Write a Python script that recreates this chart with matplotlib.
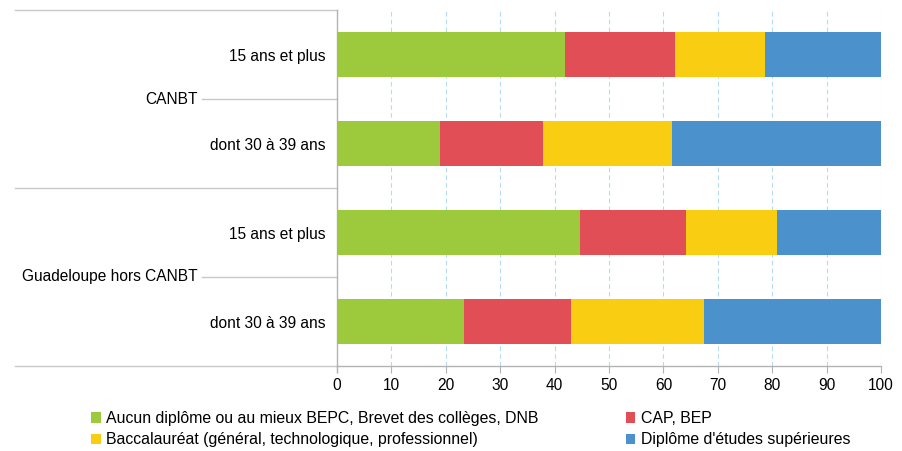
import matplotlib
matplotlib.use("Agg")
import matplotlib.pyplot as plt
from matplotlib.transforms import blended_transform_factory
import numpy as np

plt.rcParams['font.family'] = ['Liberation Sans', 'DejaVu Sans']

groups = ["CANBT", "Guadeloupe hors CANBT"]
subcats = ["15 ans et plus", "dont 30 à 39 ans"]
series = ["Aucun diplôme ou au mieux BEPC, Brevet des collèges, DNB",
          "CAP, BEP",
          "Baccalauréat (général, technologique, professionnel)",
          "Diplôme d'études supérieures"]
colors = ["#9dca3c", "#e24e55", "#f9ce12", "#4b91cc"]
# rows: CANBT 15+, CANBT 30-39, Guad 15+, Guad 30-39
aucun = [41.9, 19.0, 44.7, 23.4]
cap = [20.2, 18.9, 19.4, 19.6]
bac = [16.6, 23.6, 16.8, 24.4]
sup = [21.3, 38.5, 19.1, 32.6]
values = [aucun, cap, bac, sup]
xticks = list(range(0, 101, 10))

FS = 11.2
LFS = 11.4
W, H = 903, 451
fig = plt.figure(figsize=(W / 100, H / 100), dpi=100)
ax = fig.add_axes([337 / W, 85 / H, 544 / W, 356 / H])

n = len(aucun)
ypos = np.arange(n)[::-1]
left = np.zeros(n)
handles = []
for vals, name, col in zip(values, series, colors):
    b = ax.barh(ypos, vals, left=left, height=0.5, color=col, label=name, zorder=3)
    handles.append(b)
    left += np.array(vals)

ax.set_xlim(0, 100)
ax.set_ylim(-0.5, n - 0.5)
ax.set_xticks(xticks)
ax.set_xticklabels([str(t) for t in xticks], fontsize=FS)
ax.xaxis.grid(True, color="#b4dcf0", linestyle=(0, (4, 3)), linewidth=0.8, zorder=0)
ax.set_axisbelow(True)

ax.set_yticks(ypos)
ax.set_yticklabels([subcats[i % 2] for i in range(n)], fontsize=FS)
ax.tick_params(axis='y', length=0, pad=8.6)
ax.tick_params(axis='x', length=5, color="#b3b3b3", pad=4)

for s in ["top", "right"]:
    ax.spines[s].set_visible(False)
for s in ["left", "bottom"]:
    ax.spines[s].set_color("#b3b3b3")
    ax.spines[s].set_linewidth(1.0)

tr = blended_transform_factory(fig.transFigure, ax.transData)
line_col = "#c8c8c8"
# group separators
for y in [n - 0.5, n / 2 - 0.5, -0.5]:
    ax.plot([15 / W, 337 / W], [y, y], transform=tr, color=line_col, lw=1.0, clip_on=False)
# group label lines and labels
for gi, g in enumerate(groups):
    yc = n - 0.5 - (gi * 2 + 1)
    ax.plot([202 / W, 337 / W], [yc, yc], transform=tr, color=line_col, lw=1.0, clip_on=False)
    ax.text(198 / W, yc, g, transform=tr, ha='right', va='center', fontsize=FS)
# small tick below left spine
ax.plot([0, 0], [-0.5, -0.57], color="#b3b3b3", lw=1.0, clip_on=False)

order = [0, 2, 1, 3]
fig.legend(handles=[handles[i] for i in order], labels=[series[i] for i in order],
           loc='upper left', bbox_to_anchor=(91 / W, 1 - 411 / H),
           ncol=2, frameon=False, fontsize=LFS, handlelength=0.63, handleheight=0.63,
           handletextpad=0.32, columnspacing=5.5, labelspacing=0.4, borderpad=0, borderaxespad=0)

fig.savefig("out.png", dpi=100)
